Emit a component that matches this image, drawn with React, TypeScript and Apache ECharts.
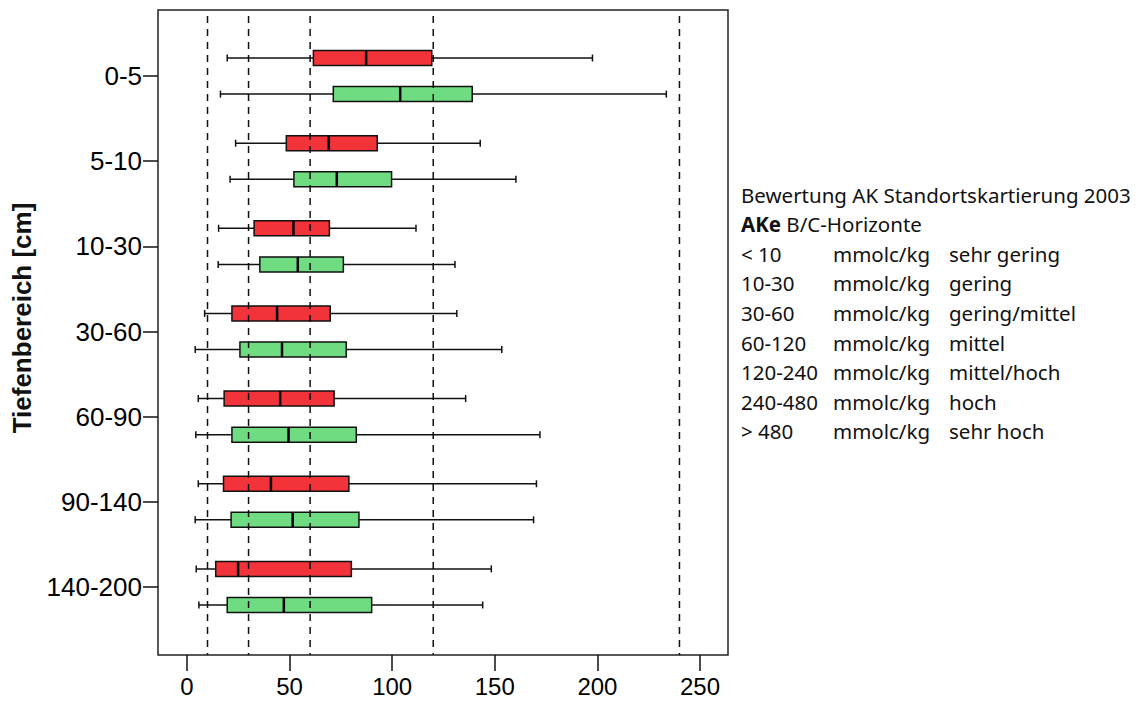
import { useEffect, useRef } from "react";
import * as echarts from "echarts";

const categories = ["0-5", "5-10", "10-30", "30-60", "60-90", "90-140", "140-200"];
// each row: [min, q1, median, q3, max]
const redStats = [
  [19.6, 61.6, 87.3, 119.3, 197.6],
  [23.7, 48.4, 69.1, 92.7, 142.9],
  [15.4, 32.7, 51.9, 69.4, 111.6],
  [8.6, 21.9, 43.9, 69.8, 131.5],
  [5.5, 18.1, 45.4, 71.7, 135.8],
  [5.5, 17.8, 40.9, 78.9, 170.3],
  [4.5, 14.0, 24.9, 80.1, 148.3],
];
const greenStats = [
  [16.3, 71.3, 103.9, 139.0, 233.6],
  [21.0, 52.1, 73.0, 99.7, 160.3],
  [15.2, 35.5, 54.0, 76.2, 130.6],
  [4.0, 25.8, 46.3, 77.6, 153.4],
  [4.3, 21.9, 49.5, 82.5, 172.0],
  [4.0, 21.5, 51.5, 83.8, 168.9],
  [5.8, 19.6, 47.2, 90.0, 144.1],
];
const thresholds = [10, 30, 60, 120, 240];
const xTicks = [0, 50, 100, 150, 200, 250];
const yAxisTitle = "Tiefenbereich [cm]";
const legendTitle = "Bewertung AK Standortskartierung 2003";
const legendSub = ["AKe", "B/C-Horizonte"];
const legendRanges = ["< 10", "10-30", "30-60", "60-120", "120-240", "240-480", "> 480"];
const legendUnit = "mmolc/kg";
const legendRatings = ["sehr gering", "gering", "gering/mittel", "mittel", "mittel/hoch", "hoch", "sehr hoch"];

const X_MIN = -14.13;
const X_MAX = 263.65;
const RED = "#F2333A";
const GREEN = "#70DC82";
const LEGEND_FONT = "'Noto Sans', sans-serif";
const AXIS_FONT = "'Liberation Sans', Arial, sans-serif";

const makeBoxRender = (fill: string, side: number) => (params: any, api: any) => {
  const cat = api.value(0);
  const band = api.size([0, 1])[1];
  const cy = api.coord([0, cat])[1] + side * band * 0.212;
  const px = (v: number) => api.coord([v, cat])[0];
  const xmin = px(api.value(1));
  const q1 = px(api.value(2));
  const med = px(api.value(3));
  const q3 = px(api.value(4));
  const xmax = px(api.value(5));
  const h = 15;
  const cap = 7;
  const ls = { stroke: "#111", lineWidth: 1.5 };
  return {
    type: "group",
    children: [
      { type: "line", shape: { x1: xmin, y1: cy, x2: xmax, y2: cy }, style: ls },
      { type: "line", shape: { x1: xmin, y1: cy - cap / 2, x2: xmin, y2: cy + cap / 2 }, style: ls },
      { type: "line", shape: { x1: xmax, y1: cy - cap / 2, x2: xmax, y2: cy + cap / 2 }, style: ls },
      {
        type: "rect",
        shape: { x: q1, y: cy - h / 2, width: q3 - q1, height: h },
        style: { fill, stroke: "#111", lineWidth: 1.5 },
      },
      { type: "line", shape: { x1: med, y1: cy - h / 2, x2: med, y2: cy + h / 2 }, style: { stroke: "#000", lineWidth: 2.5 } },
    ],
  };
};

const thresholdRender = (params: any, api: any) => {
  const x = api.coord([api.value(0), 0])[0];
  const cs = params.coordSys;
  return {
    type: "line",
    shape: { x1: x, y1: cs.y, x2: x, y2: cs.y + cs.height },
    style: { stroke: "#111", lineWidth: 1.5, lineDash: [7, 6], lineDashOffset: -6 },
  };
};

export default function App() {
  const ref = useRef<HTMLDivElement>(null);
  useEffect(() => {
    if (!ref.current) return;
    const chart = echarts.init(ref.current, null, { renderer: "svg" });

    const legendY0 = 195;
    const legendStep = 29.6;
    const legendGraphics: any[] = [
      {
        type: "text",
        left: 741,
        top: legendY0 - 11,
        style: { text: legendTitle, fontSize: 20.5, fontFamily: LEGEND_FONT, fill: "#111" },
      },
      {
        type: "text",
        left: 741,
        top: legendY0 + legendStep - 11,
        style: {
          text: `{b|${legendSub[0]}} ${legendSub[1]}`,
          fontSize: 20.5,
          fontFamily: LEGEND_FONT,
          fill: "#111",
          rich: { b: { fontWeight: "bold", fontSize: 20.5, fontFamily: LEGEND_FONT, fill: "#111" } },
        },
      },
    ];
    legendRanges.forEach((r, i) => {
      const top = legendY0 + legendStep * (i + 2) - 11;
      legendGraphics.push(
        { type: "text", left: 741, top, style: { text: r, fontSize: 20.5, fontFamily: LEGEND_FONT, fill: "#111" } },
        { type: "text", left: 833, top, style: { text: legendUnit, fontSize: 20.5, fontFamily: LEGEND_FONT, fill: "#111" } },
        { type: "text", left: 949, top, style: { text: legendRatings[i], fontSize: 20.5, fontFamily: LEGEND_FONT, fill: "#111" } }
      );
    });

    chart.setOption({
      animation: false,
      backgroundColor: "#fff",
      grid: [
        { left: 158, top: 10, width: 570, height: 645, show: true, borderColor: "#222", borderWidth: 1.5, backgroundColor: "transparent" },
        { left: 158, top: 33.5, width: 570, height: 596 },
      ],
      xAxis: [
        {
          type: "value",
          gridIndex: 0,
          min: X_MIN,
          max: X_MAX,
          axisLine: { show: false, onZero: false },
          splitLine: { show: false },
          axisTick: { show: true, length: 16, customValues: xTicks, lineStyle: { color: "#111", width: 1.5 } },
          axisLabel: { customValues: xTicks, fontSize: 24, lineHeight: 22, margin: 20, color: "#000", fontFamily: AXIS_FONT },
        },
        { type: "value", gridIndex: 1, min: X_MIN, max: X_MAX, show: false },
      ],
      yAxis: [
        { type: "value", gridIndex: 0, min: 0, max: 1, show: false },
        {
          type: "category",
          gridIndex: 1,
          data: categories,
          inverse: true,
          axisLine: { show: false, onZero: false },
          splitLine: { show: false },
          axisTick: { show: true, alignWithLabel: true, length: 15, lineStyle: { color: "#111", width: 1.5 } },
          axisLabel: { fontSize: 26, margin: 16, color: "#000", fontFamily: AXIS_FONT },
        },
      ],
      graphic: [
        {
          type: "text",
          x: 22,
          y: 318,
          rotation: Math.PI / 2,
          style: {
            text: yAxisTitle,
            fontSize: 26,
            fontWeight: "bold",
            fontFamily: AXIS_FONT,
            fill: "#111",
            align: "center",
            verticalAlign: "middle",
          },
        },
        ...legendGraphics,
      ],
      series: [
        {
          type: "custom",
          xAxisIndex: 1,
          yAxisIndex: 1,
          renderItem: makeBoxRender(RED, -1),
          encode: { x: [1, 2, 3, 4, 5], y: 0 },
          data: redStats.map((s, i) => [i, ...s]),
          z: 2,
        },
        {
          type: "custom",
          xAxisIndex: 1,
          yAxisIndex: 1,
          renderItem: makeBoxRender(GREEN, 1),
          encode: { x: [1, 2, 3, 4, 5], y: 0 },
          data: greenStats.map((s, i) => [i, ...s]),
          z: 2,
        },
        {
          type: "custom",
          xAxisIndex: 0,
          yAxisIndex: 0,
          renderItem: thresholdRender,
          encode: { x: 0 },
          data: thresholds.map((t) => [t]),
          z: 5,
        },
      ],
    });
    return () => chart.dispose();
  }, []);
  return <div ref={ref} style={{ position: "fixed", left: 0, top: 0, width: 1142, height: 701 }} />;
}
